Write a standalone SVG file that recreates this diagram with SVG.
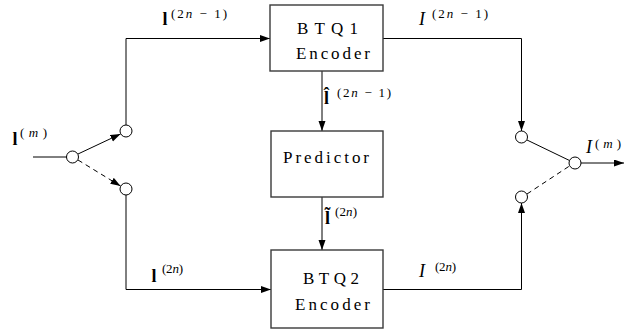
<svg xmlns="http://www.w3.org/2000/svg" width="624" height="331" viewBox="0 0 624 331">
  <defs>
    <marker id="arrow" markerUnits="userSpaceOnUse" markerWidth="11" markerHeight="8" refX="10" refY="3.5" orient="auto">
      <path d="M0,0 L10,3.5 L0,7 Z" fill="#000"/>
    </marker>
    <style>
      .box { fill: #fff; stroke: #3a3a3a; stroke-width: 1.4; }
      .line { fill: none; stroke: #000; stroke-width: 1; }
      .dash { fill: none; stroke: #000; stroke-width: 1; stroke-dasharray: 5 4; }
      .node { fill: #fff; stroke: #000; stroke-width: 1; }
      text { fill: #000; }
      .lbl { font-size: 17px; }
      .sym { font-size: 18px; font-weight: bold; }
      .isym { font-size: 18px; font-style: italic; }
      .sup { font-size: 13px; }
      .it { font-style: italic; }
    </style>
  </defs>

  <!-- connectors -->
  <g id="connectors">
    <!-- input line and splitting switch -->
    <line class="line" x1="33" y1="157" x2="67" y2="157"/>
    <line class="line" x1="78" y1="154" x2="120.5" y2="134" marker-end="url(#arrow)"/>
    <line class="dash" x1="78" y1="160" x2="120.5" y2="186" marker-end="url(#arrow)"/>
    <!-- upper branch into BTQ1 -->
    <polyline class="line" points="126,125 126,38.5 270,38.5" marker-end="url(#arrow)"/>
    <!-- lower branch into BTQ2 -->
    <polyline class="line" points="126,195 126,289.5 271,289.5" marker-end="url(#arrow)"/>
    <!-- BTQ1 -> Predictor -> BTQ2 -->
    <line class="line" x1="322" y1="71" x2="322" y2="131" marker-end="url(#arrow)"/>
    <line class="line" x1="322" y1="197" x2="322" y2="250" marker-end="url(#arrow)"/>
    <!-- outputs into merging switch -->
    <polyline class="line" points="383,38.5 521.5,38.5 521.5,131" marker-end="url(#arrow)"/>
    <polyline class="line" points="383,289.5 521.5,289.5 521.5,203" marker-end="url(#arrow)"/>
    <line class="line" x1="527" y1="140" x2="569.5" y2="160.5"/>
    <line class="dash" x1="527" y1="194" x2="569.5" y2="166"/>
    <line class="line" x1="581" y1="163" x2="624" y2="163" marker-end="url(#arrow)"/>
  </g>

  <!-- switch contacts -->
  <g id="switch-in">
    <circle class="node" cx="72.5" cy="157" r="6"/>
    <circle class="node" cx="126" cy="131" r="6"/>
    <circle class="node" cx="126" cy="189" r="6"/>
  </g>
  <g id="switch-out">
    <circle class="node" cx="521.5" cy="137" r="6"/>
    <circle class="node" cx="575" cy="163" r="6"/>
    <circle class="node" cx="521.5" cy="197" r="6"/>
  </g>

  <g font-family="'Liberation Serif', 'Times New Roman', Times, 'DejaVu Serif', serif">
    <!-- blocks -->
    <g id="btq1">
      <rect class="box" x="270" y="5" width="113" height="66"/>
      <text class="lbl" x="297" y="34" textLength="61" lengthAdjust="spacing">BTQ1</text>
      <text class="lbl" x="296" y="59" textLength="74" lengthAdjust="spacing">Encoder</text>
    </g>
    <g id="predictor">
      <rect class="box" x="271" y="131" width="112" height="66"/>
      <text class="lbl" x="283" y="163" textLength="86" lengthAdjust="spacing">Predictor</text>
    </g>
    <g id="btq2">
      <rect class="box" x="271" y="250" width="112" height="78"/>
      <text class="lbl" x="303" y="284" textLength="56" lengthAdjust="spacing">BTQ2</text>
      <text class="lbl" x="295" y="310" textLength="75" lengthAdjust="spacing">Encoder</text>
    </g>

    <!-- signal labels -->
    <g id="labels">
      <text class="sym" x="12.5" y="145">l</text>
      <text class="sup" x="20" y="137" textLength="27" lengthAdjust="spacing">(<tspan class="it">m</tspan>)</text>

      <text class="sym" x="162.5" y="24.5">l</text>
      <text class="sup" x="171" y="18" textLength="56" lengthAdjust="spacing">(2<tspan class="it">n</tspan> − 1)</text>

      <text class="isym" x="419" y="25">I</text>
      <text class="sup" x="432" y="18" textLength="56" lengthAdjust="spacing">(2<tspan class="it">n</tspan> − 1)</text>

      <text class="sym" x="324" y="104">l̂</text>
      <text class="sup" x="337" y="97" textLength="54" lengthAdjust="spacing">(2<tspan class="it">n</tspan> − 1)</text>

      <text class="sym" x="325" y="224">l̃</text>
      <text class="sup" x="335" y="216" textLength="22" lengthAdjust="spacing">(2<tspan class="it">n</tspan>)</text>

      <text class="sym" x="151.5" y="282">l</text>
      <text class="sup" x="162" y="273" textLength="21" lengthAdjust="spacing">(2<tspan class="it">n</tspan>)</text>

      <text class="isym" x="419" y="277">I</text>
      <text class="sup" x="435" y="271" textLength="21" lengthAdjust="spacing">(2<tspan class="it">n</tspan>)</text>

      <text class="isym" x="586" y="153">I</text>
      <text class="sup" x="595" y="148" textLength="26" lengthAdjust="spacing">(<tspan class="it">m</tspan>)</text>
    </g>
  </g>
</svg>
